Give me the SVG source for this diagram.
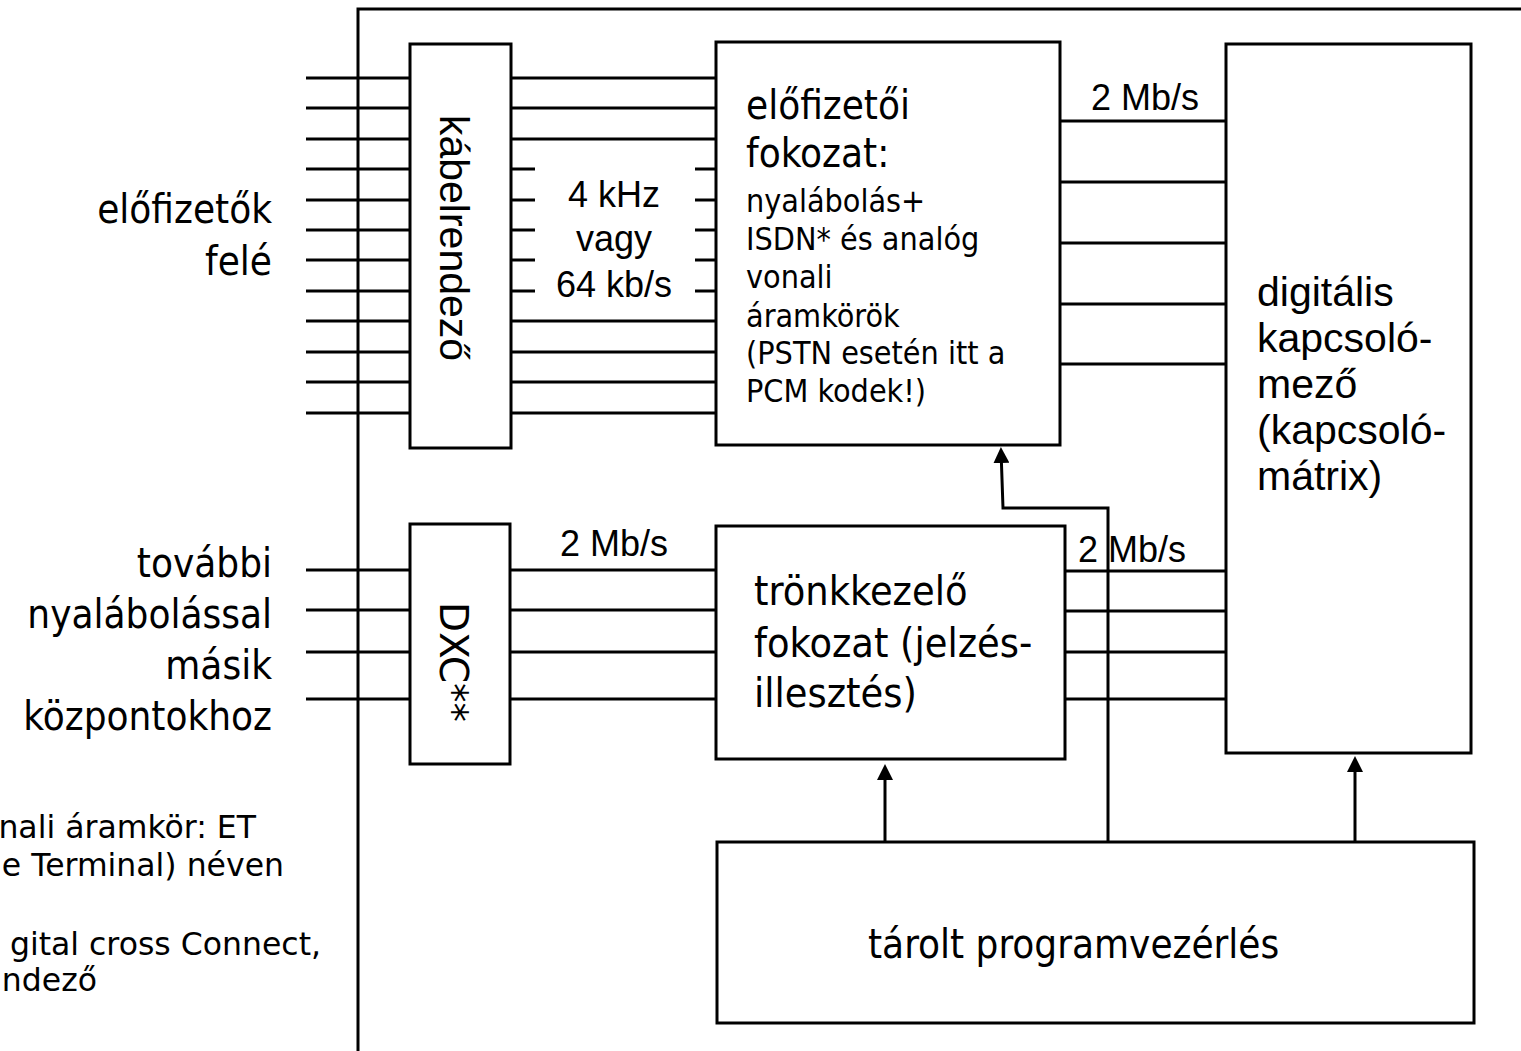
<svg xmlns="http://www.w3.org/2000/svg" width="1521" height="1051" viewBox="0 0 1521 1051">
<defs>
<style>
.box{fill:#fff;stroke:#000;stroke-width:3}
.ln{fill:none;stroke:#000;stroke-width:3}
.t{font-family:"DejaVu Sans Condensed","DejaVu Sans",sans-serif;fill:#000}
.f{font-family:"DejaVu Sans",sans-serif;fill:#000}
.a{font-family:"Liberation Sans",Arial,sans-serif;fill:#000}
</style>
<marker id="arr" viewBox="0 0 16 16" refX="10" refY="8" markerWidth="16" markerHeight="16" markerUnits="userSpaceOnUse" orient="auto"><path d="M0,0 L16,8 L0,16 z" fill="#000"/></marker>
</defs>
<rect width="1521" height="1051" fill="#fff"/>
<g id="connectors" class="ln">
<path d="M358,1051 V9 H1521"/>
<path d="M306,78H410M306,108H410M306,139H410M306,169H410M306,200H410M306,230H410M306,260H410M306,291H410M306,321H410M306,352H410M306,382H410M306,413H410"/>
<path d="M511,78H716M511,108H716M511,139H716M511,321H716M511,352H716M511,382H716M511,413H716"/>
<path d="M511,169H535M511,200H535M511,230H535M511,260H535M511,291H535M695,169H716M695,200H716M695,230H716M695,260H716M695,291H716"/>
<path d="M1060,121H1226M1060,182H1226M1060,243H1226M1060,304H1226M1060,364H1226"/>
<path d="M306,570H410M306,610H410M306,652H410M306,699H410"/>
<path d="M510,570H716M510,610H716M510,652H716M510,699H716"/>
<path d="M1065,571H1226M1065,611H1226M1065,652H1226M1065,699H1226"/>
<path d="M885,842V770" marker-end="url(#arr)"/>
<path d="M1355,842V762" marker-end="url(#arr)"/>
<path d="M1108,842V508H1003L1001.1,453" marker-end="url(#arr)"/>
</g>
<g id="kabelrendezo">
<rect class="box" x="410" y="44" width="101" height="404"/>
<text class="a" font-size="41" text-anchor="middle" transform="translate(440,238) rotate(90)">kábelrendező</text>
</g>
<g id="elofizetoi">
<rect class="box" x="716" y="42" width="344" height="403"/>
<text class="t" font-size="40" x="746" y="119">előfizetői</text>
<text class="t" font-size="40" x="746" y="167">fokozat:</text>
<text class="t" font-size="32" x="746" y="212">nyalábolás+</text>
<text class="t" font-size="32" x="746" y="250">ISDN* és analóg</text>
<text class="t" font-size="32" x="746" y="288">vonali</text>
<text class="t" font-size="32" x="746" y="327">áramkörök</text>
<text class="t" font-size="32" x="746" y="364">(PSTN esetén itt a</text>
<text class="t" font-size="32" x="746" y="402">PCM kodek!)</text>
</g>
<g id="digitalis">
<rect class="box" x="1226" y="44" width="245" height="709"/>
<text class="a" font-size="41" x="1257" y="306">digitális</text>
<text class="a" font-size="41" x="1257" y="352">kapcsoló-</text>
<text class="a" font-size="41" x="1257" y="398">mező</text>
<text class="a" font-size="41" x="1257" y="444">(kapcsoló-</text>
<text class="a" font-size="41" x="1257" y="490">mátrix)</text>
</g>
<g id="dxc">
<rect class="box" x="410" y="524" width="100" height="240"/>
<text class="f" font-size="39" text-anchor="middle" transform="translate(440,662) rotate(90)">DXC**</text>
</g>
<g id="tronk">
<rect class="box" x="716" y="526" width="349" height="233"/>
<text class="t" font-size="41" x="754" y="605">trönkkezelő</text>
<text class="t" font-size="41" x="754" y="657">fokozat (jelzés-</text>
<text class="t" font-size="41" x="754" y="707">illesztés)</text>
</g>
<g id="tarolt">
<rect class="box" x="717" y="842" width="757" height="181"/>
<text class="t" font-size="40" x="868" y="958">tárolt programvezérlés</text>
</g>
<g id="labels">
<text class="a" font-size="36" text-anchor="middle" x="614" y="207">4 kHz</text>
<text class="a" font-size="36" text-anchor="middle" x="614" y="251">vagy</text>
<text class="a" font-size="36" text-anchor="middle" x="614" y="297">64 kb/s</text>
<text class="a" font-size="36" x="1091" y="110">2 Mb/s</text>
<text class="a" font-size="36" x="560" y="556">2 Mb/s</text>
<text class="a" font-size="36" x="1078" y="562">2 Mb/s</text>
<text class="t" font-size="40" text-anchor="end" x="272" y="223">előfizetők</text>
<text class="t" font-size="40" text-anchor="end" x="272" y="275">felé</text>
<text class="t" font-size="40" text-anchor="end" x="272" y="577">további</text>
<text class="t" font-size="40" text-anchor="end" x="272" y="628">nyalábolással</text>
<text class="t" font-size="40" text-anchor="end" x="272" y="679">másik</text>
<text class="t" font-size="40" text-anchor="end" x="272" y="730">központokhoz</text>
<text class="f" font-size="31.5" text-anchor="end" x="256" y="838">nali áramkör: ET</text>
<text class="f" font-size="31.5" text-anchor="end" x="284" y="876">e Terminal) néven</text>
<text class="f" font-size="31.5" text-anchor="end" x="321" y="955">gital cross Connect,</text>
<text class="f" font-size="31.5" text-anchor="end" x="97" y="991">ndező</text>
</g>
</svg>
